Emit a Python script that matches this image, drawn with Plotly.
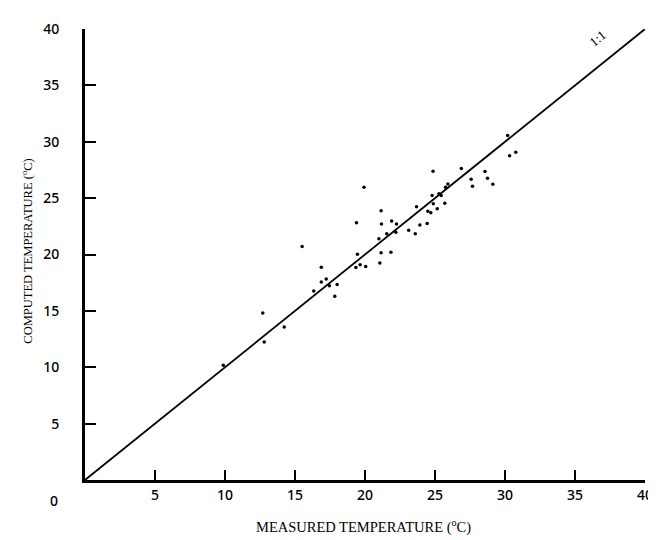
import plotly.graph_objects as go

# Measured vs computed temperature (deg C)
measured = [19.93, 21.15, 19.39, 21.18, 21.90, 22.25, 21.55, 22.20, 20.99, 15.51,
            19.46, 21.15, 21.85, 21.06, 19.35, 19.65, 20.05, 16.88, 17.23, 16.88,
            17.46, 18.01, 16.34, 17.84, 12.70, 14.23, 12.80, 9.88,
            30.19, 30.33, 30.77, 26.88, 24.86, 28.57, 27.58, 28.75, 27.68, 29.13,
            25.75, 25.92, 25.44, 25.28, 24.79, 24.88, 25.70, 23.68, 24.49, 24.70,
            25.16, 23.92, 24.44, 23.12, 23.59]
computed = [25.97, 23.89, 22.81, 22.70, 22.98, 22.70, 21.85, 21.97, 21.39, 20.70,
            20.03, 20.15, 20.20, 19.24, 18.84, 19.10, 18.93, 18.87, 17.83, 17.57,
            17.22, 17.33, 16.76, 16.29, 14.81, 13.57, 12.23, 10.17,
            30.55, 28.76, 29.07, 27.63, 27.39, 27.37, 26.67, 26.76, 26.06, 26.23,
            25.97, 26.26, 25.24, 25.39, 25.24, 24.50, 24.55, 24.23, 23.83, 23.71,
            24.06, 22.61, 22.76, 22.15, 21.85]

one_to_one = [0, 40]
tick_vals = [5, 10, 15, 20, 25, 30, 35, 40]
tick_text = ["5", "10", "15", "20", "25", "30", "35", "40"]

fig = go.Figure()
fig.add_trace(go.Scatter(x=one_to_one, y=one_to_one, mode="lines",
                         line=dict(color="black", width=1.8), hoverinfo="skip"))
fig.add_trace(go.Scatter(x=measured, y=computed, mode="markers",
                         marker=dict(color="black", size=3.5)))

tick_font = dict(family="Noto Sans", size=14, color="black", weight=500)
fig.update_xaxes(range=[0, 40], tickvals=tick_vals, ticktext=tick_text,
                 showline=True, linewidth=3, linecolor="black",
                 ticks="inside", ticklen=10, tickwidth=2, tickcolor="black",
                 showgrid=False, zeroline=False, tickfont=tick_font,
                 ticklabelstandoff=0)
fig.update_yaxes(range=[0, 40], tickvals=tick_vals, ticktext=tick_text,
                 showline=True, linewidth=3, linecolor="black",
                 ticks="inside", ticklen=11, tickwidth=2, tickcolor="black",
                 showgrid=False, zeroline=False, tickfont=tick_font,
                 ticklabelstandoff=20)

title_font = dict(family="Liberation Serif", color="black")
fig.add_annotation(text="MEASURED TEMPERATURE (<sup>o</sup>C)", xref="paper", yref="paper",
                   x=0.498, y=-0.104, showarrow=False, xanchor="center", yanchor="middle",
                   font=dict(size=14.5, **title_font))
fig.add_annotation(text="COMPUTED TEMPERATURE (<sup>o</sup>C)", xref="paper", yref="paper",
                   x=-0.104, y=0.508, showarrow=False, textangle=-90,
                   xanchor="center", yanchor="middle",
                   font=dict(size=12.5, **title_font))
fig.add_annotation(text="0", xref="paper", yref="paper", x=-0.055, y=-0.045,
                   showarrow=False, xanchor="center", yanchor="middle", font=tick_font)
fig.add_annotation(text="1:1", x=36.6, y=39.2, showarrow=False, textangle=-39,
                   font=dict(family="Liberation Serif", size=13, color="black"))

fig.update_layout(width=656, height=540, showlegend=False,
                  plot_bgcolor="white", paper_bgcolor="white",
                  margin=dict(l=77, r=11, t=12, b=68))

fig.write_html("out.html")
